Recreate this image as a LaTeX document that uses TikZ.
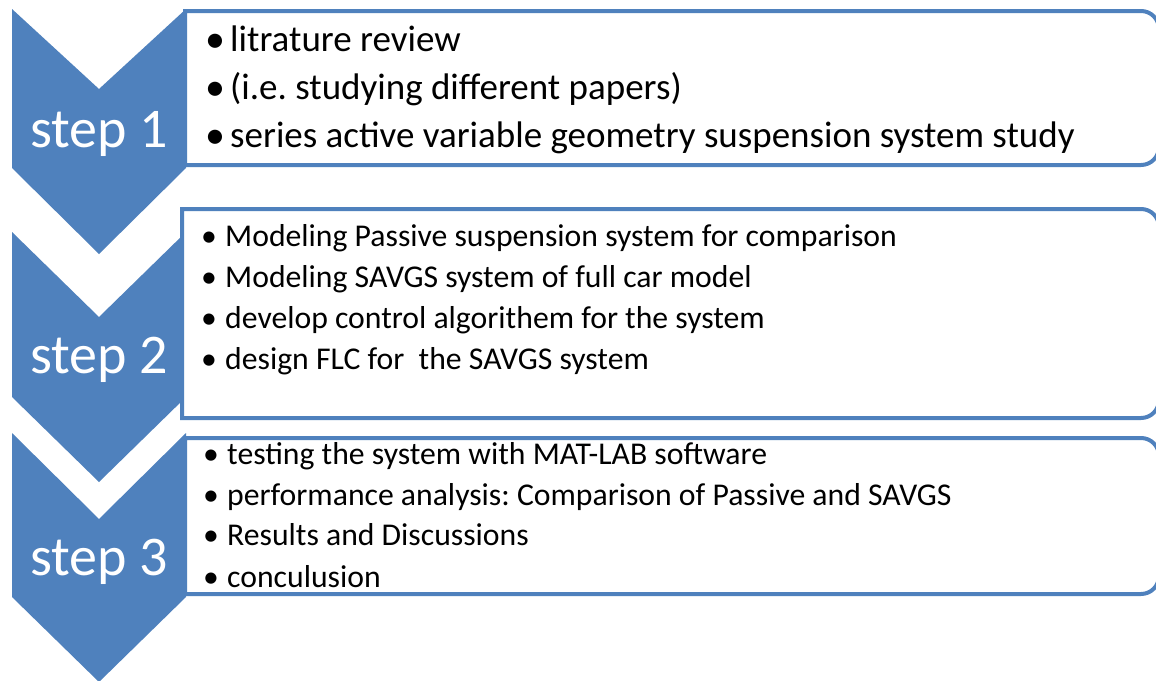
\documentclass[tikz,border=0pt]{standalone}
\usepackage{fontspec}
\setmainfont{Carlito}
\frenchspacing
\definecolor{ofblue}{HTML}{4F81BD}
\begin{document}
\begin{tikzpicture}[x=1pt,y=-1pt,
  chev/.style={fill=ofblue,draw=none},
  listbox/.style={draw=ofblue,line width=4pt,fill=white},
  steplbl/.style={text=white,font=\fontsize{56}{60}\selectfont,anchor=base,inner sep=0pt},
  bigline/.style={font=\fontsize{37}{44}\selectfont,anchor=base west,inner sep=0pt},
  bigdot/.style={font=\fontsize{40}{44}\selectfont,anchor=base,inner sep=0pt},
  smline/.style={font=\fontsize{31.7}{38}\selectfont,anchor=base west,inner sep=0pt},
  smdot/.style={font=\fontsize{31.7}{38}\selectfont,anchor=base,inner sep=0pt}]
\fill[white] (0,0) rectangle (1156,680);
\useasboundingbox (0,0) rectangle (1156,680);
\begin{scope}
\clip (0,0) rectangle (1156,680);
% chevrons
\fill[chev] (12,9) -- (99,89) -- (186,9) -- (186,168) -- (99,254) -- (12,168) -- cycle;
\fill[chev] (12,232) -- (99,317) -- (186,232) -- (186,397) -- (99,482) -- (12,397) -- cycle;
\fill[chev] (12,433) -- (99,519) -- (186,433) -- (186,597) -- (99,682) -- (12,597) -- cycle;
% boxes
\path[listbox] (185,165) -- (185,11) -- (700,11) [rounded corners=18pt] -- (1159,11) -- (1159,165) -- (700,165) [sharp corners] -- (600,165) -- cycle;
\path[listbox] (182,418) -- (182,209) -- (700,209) [rounded corners=18pt] -- (1159,209) -- (1159,418) -- (700,418) [sharp corners] -- (600,418) -- cycle;
\path[listbox] (185,594) -- (185,438) -- (700,438) [rounded corners=18pt] -- (1159,438) -- (1159,594) -- (700,594) [sharp corners] -- (600,594) -- cycle;
\end{scope}
% step labels
\node[steplbl] (s1) at (99,147) {step 1};
\node[steplbl] (s2) at (99,373) {step 2};
\node[steplbl] (s3) at (99,575) {step 3};
% box 1
\node[bigdot] (d11) at (215.5,52) {•};
\node[bigline] (t11) at (230,51) {litrature review};
\node[bigdot] (d12) at (215.5,100) {•};
\node[bigline] (t12) at (230,99) {(i.e. studying different papers)};
\node[bigdot] (d13) at (215.5,148) {•};
\node[bigline] (t13) at (230,147) {series active variable geometry suspension system study};
% box 2
\node[smdot] (d21) at (209,246) {•};
\node[smline] (t21) at (225,246) {Modeling Passive suspension system for comparison};
\node[smdot] (d22) at (209,287) {•};
\node[smline] (t22) at (225,287) {Modeling SAVGS system of full car model};
\node[smdot] (d23) at (209,328) {•};
\node[smline] (t23) at (225,328) {develop control algorithem for the system};
\node[smdot] (d24) at (209,369) {•};
\node[smline] (t24) at (225,369) {design FLC for\ \ the SAVGS system};
% box 3
\node[smdot] (d31) at (211,464) {•};
\node[smline] (t31) at (227,464) {testing the system with MAT-LAB software};
\node[smdot] (d32) at (211,505) {•};
\node[smline] (t32) at (227,505) {performance analysis: Comparison of Passive and SAVGS};
\node[smdot] (d33) at (211,545) {•};
\node[smline] (t33) at (227,545) {Results and Discussions};
\node[smdot] (d34) at (211,587) {•};
\node[smline] (t34) at (227,587) {conculusion};
\end{tikzpicture}
\end{document}
